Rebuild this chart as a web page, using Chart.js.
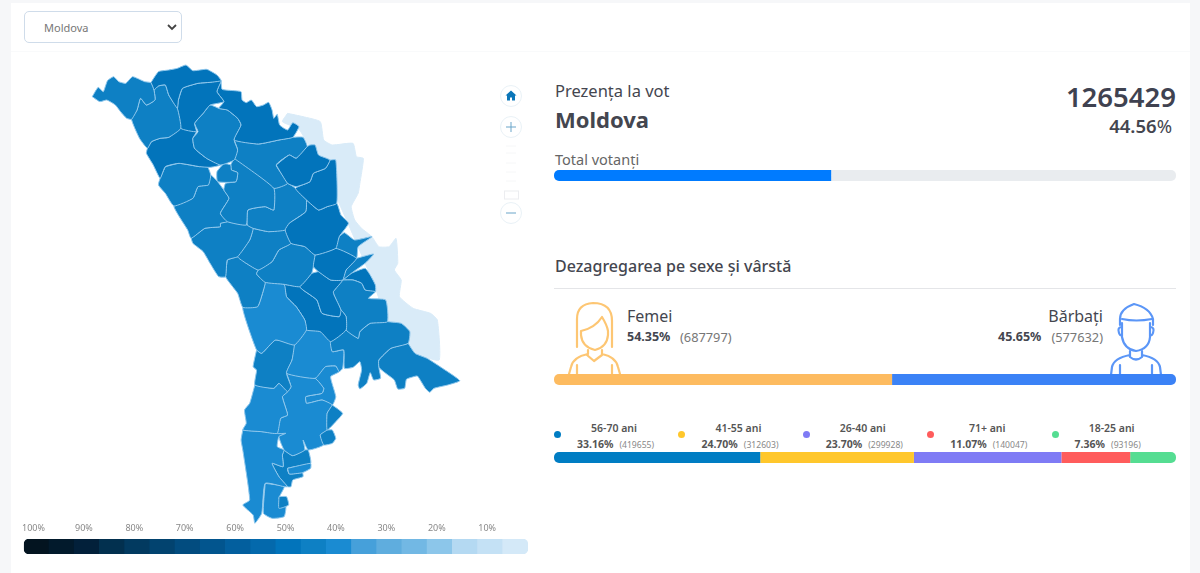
<!DOCTYPE html>
<html lang="ro">
<head>
<meta charset="utf-8">
<title>Prezența la vot</title>
<script src="https://cdn.jsdelivr.net/npm/chart.js@4"></script>
<style>
    html, body { margin: 0; padding: 0; }
    body { width: 1200px; height: 573px; position: relative; overflow: hidden; background: #f6f7f9;
           font-family: "Noto Sans", sans-serif; color: #44464f; }
    #card { position: absolute; left: 11px; top: 3px; width: 1179px; height: 570px; background: #fff; }
    #headRule { position: absolute; left: 11px; top: 51px; width: 1179px; height: 1px; background: #f9fafb; }
    canvas { position: absolute; display: block; }
    .t { position: absolute; white-space: nowrap; line-height: 1; }
    .r { text-align: right; }
    .c { text-align: center; transform: translateX(-50%); }
    .dot { position: absolute; width: 7px; height: 7px; border-radius: 50%; }
    select { position: absolute; left: 24px; top: 11px; width: 158px; height: 32px; box-sizing: border-box;
             border: 1px solid #cfdcea; border-radius: 5px; background: #fff; appearance: none;
             font: 11px "Noto Sans", sans-serif; color: #777; padding-left: 19px; }
    svg { position: absolute; overflow: visible; }
</style>
</head>
<body>
<div id="card"></div>
<div id="headRule"></div>

<select><option>Moldova</option></select>
<svg style="left:167px;top:24px" width="10" height="7"><path d="M1 1l4 4 4-4" fill="none" stroke="#444" stroke-width="1.8"/></svg>

<canvas id="mapChart" width="540" height="480" style="left:0;top:50px"></canvas>
<canvas id="scaleChart" width="508" height="30" style="left:20px;top:524px"></canvas>

<!-- map controls -->
<svg style="left:495px;top:80px" width="34" height="150" fill="none">
    <circle cx="16" cy="16" r="10.5" stroke="#e9f1f6" fill="#fff"/>
    <path d="M16 10.5l-5.5 5h1.5v5h3v-3h2v3h3v-5h1.5z" fill="#0b76b8"/>
    <circle cx="16" cy="47" r="10.5" stroke="#e9f1f6" fill="#fff"/>
    <path d="M11 47h10M16 42v10" stroke="#6aa5c9"/>
    <path d="M11 66h10M11 73h10M11 83h10M11 92h10M11 101h10" stroke="#f6f7f8"/>
    <rect x="9.5" y="111" width="14" height="8" stroke="#ecedf0" fill="#fff"/>
    <circle cx="16" cy="133" r="10.5" stroke="#e9f1f6" fill="#fff"/>
    <path d="M11 133h10" stroke="#6aa5c9"/>
</svg>

<!-- turnout header -->
<div class="t" style="left:555px;top:83px;font-size:16.5px">Prezența la vot</div>
<div class="t" style="left:555px;top:108px;font-size:22px;font-weight:700">Moldova</div>
<div class="t r" style="right:24px;top:83px;font-size:27.5px;font-weight:600;color:#3f4250">1265429</div>
<div class="t r" style="right:28px;top:117px;font-size:18.5px;font-weight:600">44.56<span style="font-weight:400">%</span></div>
<div class="t" style="left:555px;top:152px;font-size:14.5px;color:#666">Total votanți</div>
<canvas id="totalChart" width="622" height="11" style="left:554px;top:170px"></canvas>

<!-- sex and age -->
<div class="t" style="left:555px;top:258px;font-size:16px;font-weight:500">Dezagregarea pe sexe şi vârstă</div>
<div style="position:absolute;left:554px;top:288px;width:622px;height:1px;background:#e4e5e8"></div>

<svg style="left:560px;top:295px" width="70" height="85" fill="none" stroke="#fdc673" stroke-width="2.2" stroke-linecap="round" stroke-linejoin="round">
    <path d="M17 52V24Q17 9 33 8Q52 8 52 26V52"/>
    <path d="M21 36Q35 33 42 22Q47 30 48 36V40Q47 52 35 55Q22 52 21 40z"/>
    <path d="M28 55V59Q13 62 11 72L9 79M42 55V59Q56 62 58 72L60 79"/>
    <path d="M27 60L34 66L42 60M17 70V79M52 70V79"/>
</svg>
<div class="t" style="left:627px;top:308px;font-size:16px">Femei</div>
<div class="t" style="left:627px;top:331px;font-size:12.5px;font-weight:700">54.35%</div>
<div class="t" style="left:680px;top:331px;font-size:12.8px;color:#777">(687797)</div>

<svg style="left:1100px;top:295px" width="70" height="85" fill="none" stroke="#5b96f7" stroke-width="2.2" stroke-linecap="round" stroke-linejoin="round">
    <path d="M20 30V24Q20 14 34 9Q50 13 53 24V30"/>
    <path d="M22 24Q36 27 52 24"/>
    <path d="M22 28V42Q24 54 36 56Q49 54 50 42V28"/>
    <path d="M22 32Q17 32 19 38Q20 41 22 40M50 32Q55 32 53 38Q52 41 50 40"/>
    <path d="M30 56V62Q36 67 42 62V56M30 60Q14 63 12 72L11 80M42 60Q58 63 60 72L61 80"/>
    <path d="M20 70V80M52 70V80"/>
</svg>
<div class="t r" style="right:97px;top:308px;font-size:16px">Bărbați</div>
<div class="t" style="left:998px;top:331px;font-size:12.5px;font-weight:700">45.65%</div>
<div class="t r" style="right:97px;top:331px;font-size:12.8px;color:#777">(577632)</div>
<canvas id="sexChart" width="622" height="11" style="left:554px;top:374px"></canvas>

<div id="ageLegend"></div>
<canvas id="ageChart" width="622" height="11" style="left:554px;top:452px"></canvas>

<script>
// Colour scale under the map, one step per 5%
const scaleLabels = ['100%', '', '90%', '', '80%', '', '70%', '', '60%', '', '50%', '', '40%', '', '30%', '', '20%', '', '10%', ''];
const scaleSteps = [5, 5, 5, 5, 5, 5, 5, 5, 5, 5, 5, 5, 5, 5, 5, 5, 5, 5, 5, 5];
const scaleColors = ['#031420', '#021a2c', '#02203a', '#02304f', '#023a60', '#02436f', '#024c7f', '#02558e', '#035f9e', '#0469ac',
                     '#0274bb', '#0e80c4', '#1a8bd2', '#46a0da', '#5fadde', '#72b8e4', '#8cc6ea', '#b4d9f2', '#c4e1f5', '#d4e9f8'];

// Turnout and sex / age breakdown
const totalVoters = [44.56, 55.44];
const sexVotes = [687797, 577632];
const sexColors = ['#fdbb60', '#3b82f6'];
const ageLabels = ['56-70 ani', '41-55 ani', '26-40 ani', '71+ ani', '18-25 ani'];
const agePercents = ['33.16%', '24.70%', '23.70%', '11.07%', '7.36%'];
const ageVotes = [419655, 312603, 299928, 140047, 93196];
const ageColors = ['#007dc3', '#ffc72c', '#7f7bf5', '#ff5c5c', '#55dd92'];

// Map outlines, in map units (x: 1568 wide, y: 1440 high, y going down)
const transnistria = [[835,190],[880,200],[930,215],[940,270],[965,285],[1025,280],[1035,320],[1055,325],[1045,400],[1040,430],[1020,470],[1030,510],[1050,535],[1080,560],[1100,590],[1130,590],[1150,565],[1155,640],[1145,660],[1165,690],[1160,740],[1200,775],[1250,790],[1270,810],[1275,930],[1205,910],[1185,880],[1125,815],[1085,700],[980,450],[870,240],[820,215],[835,190]];
const raionTurnout = [43, 48, 43, 48, 48, 43, 48, 43, 43, 43, 48, 48, 43, 48, 43, 43, 43, 43, 48, 43, 43, 43, 43, 48, 38, 48, 43, 48, 43, 43, 38, 43, 38, 38, 38, 38, 38, 43];
const raionOutlines = [
    [[268,140],[285,112],[300,125],[312,92],[330,80],[345,95],[365,100],[385,80],[420,95],[438,98],[447,120],[450,150],[425,165],[408,145],[398,180],[382,208],[368,205],[350,185],[335,165],[310,150],[290,155]],
    [[438,98],[460,65],[490,60],[515,55],[540,45],[560,62],[600,58],[630,75],[642,92],[610,97],[575,100],[530,115],[518,150],[515,175],[490,135],[480,105],[460,108],[447,120]],
    [[447,120],[460,108],[480,105],[490,135],[515,175],[525,235],[490,262],[465,265],[440,275],[428,295],[405,265],[382,208],[398,180],[408,145],[425,165],[450,150]],
    [[518,150],[530,115],[575,100],[610,97],[642,92],[630,125],[650,155],[610,165],[590,190],[565,220],[570,245],[525,235],[515,175]],
    [[642,92],[645,118],[680,122],[700,125],[703,150],[715,158],[730,150],[745,170],[765,165],[780,157],[790,180],[795,205],[805,193],[812,225],[835,240],[850,218],[868,230],[850,262],[810,270],[750,282],[680,270],[700,225],[690,205],[660,180],[635,175],[650,155],[630,125]],
    [[635,175],[660,180],[690,205],[700,225],[680,270],[690,300],[680,330],[640,345],[600,325],[565,295],[560,265],[575,245],[565,220],[590,190],[610,165]],
    [[428,295],[440,275],[465,265],[490,262],[525,235],[570,245],[560,265],[565,295],[600,325],[640,345],[610,352],[580,350],[520,340],[480,350],[465,385],[445,345],[425,310]],
    [[650,340],[670,345],[672,360],[690,368],[685,395],[632,395],[630,365]],
    [[480,350],[520,340],[580,350],[600,345],[612,375],[605,405],[575,410],[560,445],[505,468],[480,430],[460,405],[465,385]],
    [[680,325],[795,415],[795,480],[770,470],[720,480],[715,525],[660,515],[640,490],[665,445],[650,420],[655,400],[685,395],[690,368],[672,360],[670,345]],
    [[802,345],[840,315],[860,325],[892,290],[900,285],[915,285],[925,315],[958,330],[945,355],[910,370],[900,395],[860,410],[835,400]],
    [[958,330],[975,330],[978,460],[950,470],[925,480],[890,450],[858,415],[900,395],[910,370],[945,355]],
    [[680,270],[750,282],[810,270],[850,262],[880,262],[892,290],[860,325],[840,315],[802,345],[835,400],[795,415],[680,325],[690,300]],
    [[890,450],[925,480],[950,470],[978,460],[990,495],[1012,520],[985,560],[975,595],[915,615],[885,590],[845,580],[828,540],[840,520],[888,485]],
    [[795,415],[835,400],[858,415],[890,450],[888,485],[840,520],[830,540],[780,545],[735,535],[718,525],[720,480],[770,470],[795,480]],
    [[605,405],[612,375],[632,395],[650,420],[665,445],[640,490],[660,515],[640,520],[640,530],[595,535],[555,565],[545,540],[505,468],[560,445],[575,410]],
    [[555,565],[595,535],[640,530],[640,520],[660,515],[718,525],[735,535],[725,570],[690,620],[660,630],[655,680],[635,680],[610,640],[590,605],[560,580]],
    [[735,535],[780,545],[830,540],[845,580],[810,600],[790,635],[750,660],[715,640],[690,620],[725,570]],
    [[915,615],[975,595],[1035,625],[1005,660],[995,690],[960,690],[925,665],[910,650]],
    [[845,580],[885,590],[915,615],[910,650],[905,670],[870,710],[825,703],[770,697],[745,672],[750,660],[790,635],[810,600]],
    [[985,560],[1000,548],[1030,570],[1080,560],[1040,590],[1035,625],[975,595]],
    [[660,630],[690,620],[715,640],[750,660],[745,672],[770,697],[765,720],[748,770],[705,772],[690,730],[655,680]],
    [[1035,625],[1085,612],[1060,640],[1020,670],[995,690],[1005,660]],
    [[905,670],[925,665],[960,690],[995,690],[968,725],[970,735],[990,780],[985,800],[935,790],[920,750],[880,720],[870,710]],
    [[770,697],[825,703],[832,740],[860,770],[885,810],[890,840],[855,885],[800,870],[760,910],[745,900],[720,830],[705,772],[748,770],[765,720]],
    [[825,703],[870,710],[880,720],[920,750],[935,790],[985,800],[990,780],[1005,800],[1005,840],[960,875],[930,845],[890,840],[885,810],[860,770],[832,740]],
    [[995,690],[1025,690],[1050,700],[1060,720],[1090,725],[1070,745],[1120,750],[1125,815],[1075,820],[1045,845],[1040,865],[1005,840],[1005,800],[990,780],[970,735],[968,725]],
    [[995,690],[1020,670],[1060,655],[1075,675],[1090,705],[1090,725],[1060,720],[1050,700],[1025,690]],
    [[1125,815],[1165,820],[1190,845],[1185,880],[1135,895],[1100,930],[1100,952],[1105,985],[1085,990],[1075,968],[1065,1000],[1045,1017],[1040,1005],[1050,960],[1045,935],[1025,952],[1000,955],[998,900],[965,905],[960,875],[1005,840],[1040,865],[1045,845],[1075,820]],
    [[1185,880],[1205,910],[1240,925],[1285,955],[1335,992],[1300,1005],[1260,1015],[1248,1027],[1235,1015],[1212,978],[1195,982],[1180,988],[1175,1015],[1155,1017],[1145,990],[1120,970],[1100,952],[1100,930],[1135,895]],
    [[855,885],[890,840],[930,845],[960,875],[965,905],[998,900],[995,955],[985,965],[975,948],[945,950],[915,985],[832,970],[848,930]],
    [[745,900],[760,910],[800,870],[855,885],[848,930],[832,970],[845,1010],[835,1025],[810,1000],[795,1015],[740,1005],[745,960],[735,950]],
    [[740,1005],[795,1015],[810,1000],[835,1025],[820,1040],[835,1095],[815,1105],[805,1150],[760,1145],[705,1140],[715,1120],[710,1080],[725,1060]],
    [[832,970],[915,985],[940,1015],[935,1030],[888,1040],[890,1060],[935,1050],[965,1065],[950,1090],[950,1140],[930,1155],[940,1185],[895,1200],[880,1170],[885,1200],[850,1217],[825,1200],[810,1160],[830,1150],[805,1150],[815,1105],[835,1095],[820,1040],[835,1025],[845,1010]],
    [[915,985],[945,950],[975,948],[985,965],[960,980],[975,1040],[965,1065],[935,1050],[890,1060],[888,1040],[935,1030],[940,1015]],
    [[705,1140],[760,1145],[805,1150],[830,1150],[810,1160],[805,1190],[825,1200],[820,1215],[822,1250],[790,1240],[810,1280],[835,1310],[825,1310],[770,1300],[760,1390],[740,1420],[735,1395],[705,1365],[725,1350],[705,1200],[700,1170]],
    [[770,1300],[825,1310],[810,1345],[830,1370],[825,1400],[790,1405],[765,1390]],
    [[825,1200],[850,1217],[885,1200],[895,1200],[902,1240],[835,1255],[840,1272],[878,1268],[880,1280],[850,1290],[845,1310],[835,1310],[810,1280],[790,1240],[822,1250],[820,1215]]
];
const smallPatches = [
    [[965,1065],[995,1090],[975,1115],[950,1140],[950,1090]],
    [[950,1140],[965,1140],[975,1165],[965,1180],[940,1185],[930,1155]],
    [[810,1340],[832,1340],[838,1365],[810,1375]],
    [[835,1255],[902,1240],[902,1255],[878,1268],[840,1272]]
];
const patchTurnout = [43, 43, 43, 38];

// Turn a percent into its step of the colour scale
function stepColor(percent) {
    return scaleColors[Math.floor((100 - percent) / 5)];
}

function toPoints(outline) {
    const points = outline.map(p => ({ x: p[0], y: p[1] }));
    points.push(points[0]);
    return points;
}

function initMap() {
    const datasets = [];
    smallPatches.forEach((outline, i) => {
        datasets.push({ data: toPoints(outline), fill: 'shape', backgroundColor: stepColor(patchTurnout[i]), borderColor: '#8fc7ec', borderWidth: 1 });
    });
    raionOutlines.forEach((outline, i) => {
        datasets.push({ data: toPoints(outline), fill: 'shape', backgroundColor: stepColor(raionTurnout[i]), borderColor: '#8fc7ec', borderWidth: 1 });
    });
    // last dataset is painted first, so it stays under the raions
    datasets.push({ data: toPoints(transnistria), fill: 'shape', backgroundColor: '#d9ebf8', borderColor: '#d9ebf8', borderWidth: 1 });

    new Chart(document.getElementById('mapChart').getContext('2d'), {
        type: 'scatter',
        data: { datasets: datasets },
        options: {
            responsive: false,
            animation: false,
            showLine: true,
            elements: { point: { radius: 0 }, line: { tension: 0.15 } },
            plugins: { legend: { display: false }, tooltip: { enabled: false } },
            layout: { padding: 0 },
            scales: {
                x: { type: 'linear', display: false, min: 0, max: 1568 },
                y: { type: 'linear', display: false, min: 0, max: 1440, reverse: true }
            }
        }
    });
}

function initScale() {
    new Chart(document.getElementById('scaleChart').getContext('2d'), {
        type: 'bar',
        data: {
            labels: scaleLabels,
            datasets: [{
                data: scaleSteps,
                backgroundColor: scaleColors,
                barPercentage: 1,
                categoryPercentage: 1,
                inflateAmount: 0.4,
                borderRadius: ctx => {
                    if (ctx.dataIndex === 0) return { topLeft: 6, bottomLeft: 6, topRight: 0, bottomRight: 0 };
                    if (ctx.dataIndex === scaleSteps.length - 1) return { topLeft: 0, bottomLeft: 0, topRight: 6, bottomRight: 6 };
                    return 0;
                },
                borderSkipped: false
            }]
        },
        options: {
            responsive: false,
            animation: false,
            plugins: { legend: { display: false }, tooltip: { enabled: false } },
            layout: { padding: 0 },
            scales: {
                x: {
                    position: 'top',
                    grid: { display: false, drawTicks: false },
                    border: { display: false },
                    ticks: { autoSkip: false, maxRotation: 0, padding: 5, labelOffset: -3, color: '#888', font: { family: 'Noto Sans', size: 9 } }
                },
                y: { display: false, min: 0, max: 5 }
            }
        }
    });
}

// One horizontal stacked bar, rounded only at its two ends
function initStackedBar(id, values, colors) {
    const last = values.length - 1;
    new Chart(document.getElementById(id).getContext('2d'), {
        type: 'bar',
        data: {
            labels: [''],
            datasets: values.map((v, i) => ({
                data: [v],
                backgroundColor: colors[i],
                barPercentage: 1,
                categoryPercentage: 1,
                inflateAmount: 0,
                borderSkipped: false,
                borderRadius: {
                    topLeft: i === 0 ? 5 : 0, bottomLeft: i === 0 ? 5 : 0,
                    topRight: i === last ? 5 : 0, bottomRight: i === last ? 5 : 0
                }
            }))
        },
        options: {
            indexAxis: 'y',
            responsive: false,
            animation: false,
            plugins: { legend: { display: false }, tooltip: { enabled: false } },
            layout: { padding: 0 },
            scales: {
                x: { display: false, stacked: true, min: 0, max: values.reduce((a, b) => a + b, 0) },
                y: { display: false, stacked: true }
            }
        }
    });
}

// Age legend above the age bar
function buildAgeLegend() {
    const box = document.getElementById('ageLegend');
    let html = '';
    ageLabels.forEach((label, i) => {
        const left = 554 + i * 124.4;
        html += '<div class="dot" style="left:' + Math.round(left) + 'px;top:431px;background:' + ageColors[i] + '"></div>';
        html += '<div class="t c" style="left:' + (left + 60) + 'px;top:423px;font-size:10.5px;font-weight:600;color:#555">' + label + '</div>';
        html += '<div class="t" style="left:' + (left + 23) + 'px;top:439px;font-size:10.5px;font-weight:700;color:#555">' + agePercents[i] +
                '<span style="font-size:8.6px;font-weight:400;color:#888;margin-left:6px">(' + ageVotes[i] + ')</span></div>';
    });
    box.innerHTML = html;
}

window.onload = function () {
    initMap();
    initScale();
    initStackedBar('totalChart', totalVoters, ['#007bff', '#e9ecef']);
    initStackedBar('sexChart', sexVotes, sexColors);
    initStackedBar('ageChart', ageVotes, ageColors);
    buildAgeLegend();
};
</script>
</body>
</html>
